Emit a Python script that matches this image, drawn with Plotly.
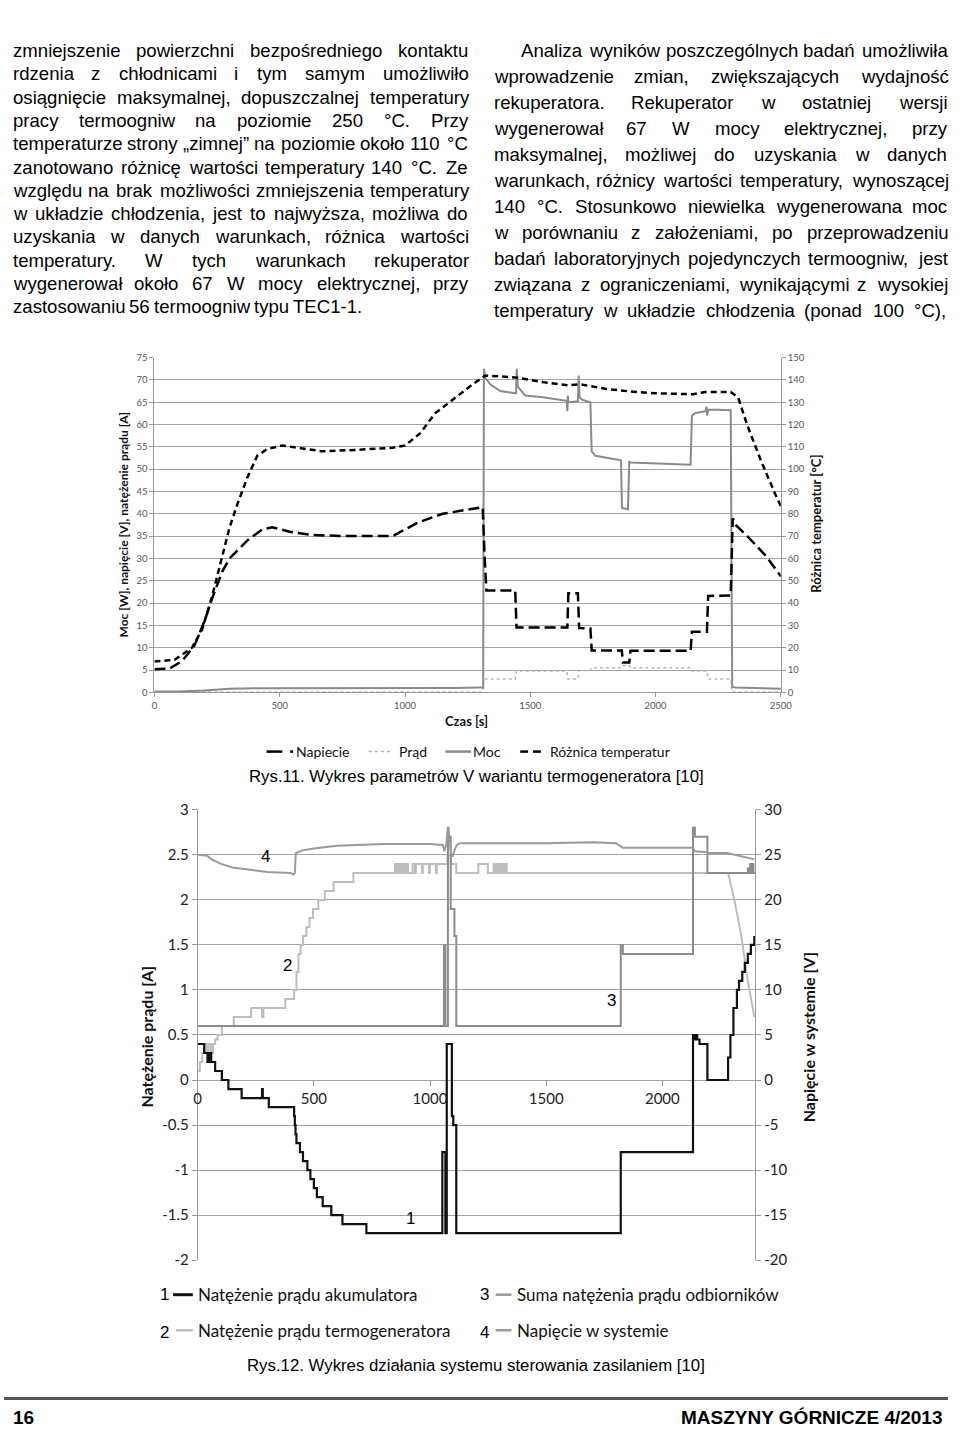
import plotly.graph_objects as go

W, H = 960, 1436


def px(x):
    return x / W


def py(y):
    return 1 - y / H


# ---------------- Chart 1 (Rys.11) data ----------------
c1_napiecie_t = [0, 60, 110, 160, 200, 230, 270, 300, 370, 430, 470, 540, 620, 750, 950, 1050, 1150, 1250,
                 1310, 1318, 1322, 1325, 1440, 1445, 1648, 1652, 1690, 1695, 1740, 1745, 1865, 1870, 1895,
                 1900, 2140, 2145, 2205, 2210, 2300, 2308, 2320, 2366, 2440, 2500]
c1_napiecie_v = [5.2, 5.3, 7.0, 10.5, 16, 21, 27, 30, 34, 36.5, 37, 36, 35.3, 35, 35, 38, 40, 41,
                 41.5, 30, 25, 22.8, 22.8, 14.5, 14.5, 22.2, 22.2, 14.4, 14.3, 9.4, 9.4, 6.7, 6.7,
                 9.3, 9.3, 13.6, 13.6, 21.6, 21.7, 39, 37.5, 35, 30.6, 26]

c1_prad_t = [0, 1310, 1315, 1440, 1445, 1645, 1650, 1690, 1695, 1740, 1745, 1865, 1870, 1895, 1900,
             2140, 2145, 2205, 2210, 2300, 2305, 2500]
c1_prad_v = [0.1, 0.1, 3.0, 3.0, 4.8, 4.8, 3.0, 3.0, 4.9, 4.9, 5.5, 5.5, 6.0, 6.0, 5.5,
             5.5, 4.8, 4.8, 3.0, 3.0, 0.1, 0.1]

c1_moc_t = [0, 100, 200, 300, 400, 700, 1000, 1200, 1300, 1312, 1315, 1320, 1340, 1380, 1440, 1443, 1446,
            1450, 1480, 1550, 1645, 1648, 1650, 1652, 1655, 1690, 1693, 1697, 1710, 1740, 1745, 1760,
            1862, 1866, 1890, 1895, 1900, 2000, 2140, 2145, 2160, 2200, 2203, 2206, 2210, 2250, 2300,
            2306, 2320, 2500]
c1_moc_v = [0.2, 0.2, 0.4, 0.8, 0.9, 0.9, 0.9, 1.0, 1.1, 1.1, 72.5, 70.5, 69, 67.5, 67, 67, 72.5,
            68.5, 66.5, 66.1, 65.3, 63, 66.5, 65, 65, 65.2, 71, 66, 65.5, 65, 54, 53,
            52, 41.3, 41, 51.6, 51.5, 51.3, 51, 62, 62.6, 63, 64, 62, 63.3, 63.3, 63.2,
            1.2, 1.1, 0.8]

c1_temp_t = [0, 80, 150, 190, 230, 270, 300, 330, 370, 410, 450, 510, 600, 670, 800, 950, 1000, 1060,
             1120, 1200, 1270, 1320, 1450, 1550, 1650, 1700, 1800, 1900, 2000, 2150, 2200, 2300, 2330,
             2365, 2420, 2477, 2500]
c1_temp_v = [13.8, 14.6, 20, 28, 43, 60, 74, 84, 96, 106, 109, 110.6, 109, 108, 108.6, 109.6, 110.6, 116,
             125, 132, 138, 142, 141, 139, 137.6, 138, 136, 134.8, 134, 133.6, 134.6, 134.6, 132,
             120, 104, 89, 83.4]

c1_xticks = [0, 500, 1000, 1500, 2000, 2500]
c1_yticks_left = list(range(0, 80, 5))
c1_yticks_right = list(range(0, 160, 10))

# ---------------- Chart 2 (Rys.12) data ----------------
# 1 - battery current [A] (step)
s1_t = [0, 28, 42, 46, 50, 54, 58, 62, 75, 104, 132, 189, 277, 280, 306, 415, 418, 421, 425, 440, 453,
        472, 485, 500, 513, 538, 575, 623, 726, 1053, 1066, 1072, 1094, 1100, 1113, 1821, 2132, 2140,
        2145, 2150, 2160, 2194, 2283, 2293, 2306, 2321, 2330, 2344, 2355, 2368, 2381, 2396]
s1_v = [0.4, 0.3, 0.2, 0.3, 0.2, 0.3, 0.2, 0.2, 0.1, 0.0, -0.1, -0.2, -0.1, -0.2, -0.3, -0.4, -0.5,
        -0.6, -0.7, -0.8, -0.9, -1.0, -1.1, -1.2, -1.3, -1.4, -1.5, -1.6, -1.7, -0.8, -1.7, 0.4,
        -0.4, -0.5, -1.7, -0.8, 0.5, 0.45, 0.5, 0.45, 0.4, 0.0, 0.25, 0.5, 0.8, 1.0, 1.1, 1.2, 1.3,
        1.4, 1.5, 1.6]

# 2 - thermogenerator current [A] (step part + final decline)
s2_t = [0, 9, 19, 28, 38, 47, 57, 66, 75, 85, 104, 155, 230, 277, 283, 377, 415, 425, 434, 443, 453,
        468, 481, 496, 519, 547, 585, 670,
        849, 853, 857, 861, 865, 869, 873, 877, 881, 885, 890, 895, 900, 905, 925, 935, 939, 965, 969,
        995, 999, 1025, 1029, 1060, 1075, 1090, 1113, 1208, 1249, 1274, 1280, 1286, 1292, 1298, 1304,
        1310, 1316, 1322, 1330, 2283]
s2_v = [0.1, 0.2, 0.3, 0.4, 0.3, 0.4, 0.3, 0.4, 0.45, 0.5, 0.6, 0.7, 0.8, 0.7, 0.8, 0.9, 1.0, 1.2, 1.4,
        1.5, 1.6, 1.7, 1.8, 1.9, 2.0, 2.1, 2.2, 2.3,
        2.4, 2.3, 2.4, 2.3, 2.4, 2.3, 2.4, 2.3, 2.4, 2.3, 2.4, 2.3, 2.4, 2.3, 2.4, 2.3, 2.4, 2.3, 2.4,
        2.3, 2.4, 2.3, 2.4, 2.4, 2.5, 2.4, 2.3, 2.4, 2.3, 2.4, 2.3, 2.4, 2.3, 2.4, 2.3,
        2.4, 2.3, 2.4, 2.3, 2.3]
s2_ramp_t = [2283, 2310, 2340, 2368, 2396]
s2_ramp_v = [2.3, 2.0, 1.6, 1.1, 0.7]

# 3 - total consumers current [A] (step)
s3_t = [0, 1060, 1066, 1077, 1080, 1089, 1105, 1113, 1821, 1830, 2132, 2140, 2194, 2368, 2372, 2378,
        2382, 2388, 2392, 2400]
s3_v = [0.6, 1.5, 0.6, 2.8, 2.7, 1.9, 1.6, 0.6, 1.5, 1.4, 2.8, 2.7, 2.3, 2.35, 2.3, 2.4, 2.3, 2.4,
        2.3, 2.3]

# 4 - system voltage [V]
s4_t = [0, 40, 60, 100, 150, 230, 300, 400, 412, 418, 422, 450, 500, 600, 700, 800, 1000, 1055, 1062,
        1070, 1077, 1083, 1090, 1097, 1105, 1115, 1130, 1500, 1700, 1800, 1830, 2130, 2140, 2194, 2200,
        2280, 2330, 2396]
s4_v = [25.0, 24.9, 24.5, 24.0, 23.6, 23.3, 23.1, 23.0, 22.8, 23.0, 25.2, 25.5, 25.7, 26.0, 26.1, 26.2,
        26.2, 26.1, 25.4, 26.2, 28.0, 27.0, 25.2, 24.8, 25.5, 26.1, 26.3, 26.3, 26.4, 26.3, 25.8, 25.8,
        25.4, 25.3, 25.2, 25.2, 24.9, 24.5]

c2_xticks = [0, 500, 1000, 1500, 2000]
c2_yticks_left = [-2, -1.5, -1, -0.5, 0, 0.5, 1, 1.5, 2, 2.5, 3]
c2_ylabels_left = ["-2", "-1.5", "-1", "-0.5", "0", "0.5", "1", "1.5", "2", "2.5", "3"]
c2_yticks_right = [-20, -15, -10, -5, 0, 5, 10, 15, 20, 25, 30]

# ---------------- Page text ----------------
left_lines = [
    "zmniejszenie powierzchni bezpośredniego kontaktu",
    "rdzenia z chłodnicami i tym samym umożliwiło",
    "osiągnięcie maksymalnej, dopuszczalnej temperatury",
    "pracy termoogniw na poziomie 250 °C. Przy",
    "temperaturze strony „zimnej” na poziomie około 110 °C",
    "zanotowano różnicę wartości temperatury 140 °C. Ze",
    "względu na brak możliwości zmniejszenia temperatury",
    "w układzie chłodzenia, jest to najwyższa, możliwa do",
    "uzyskania w danych warunkach, różnica wartości",
    "temperatury. W tych warunkach rekuperator",
    "wygenerował około 67 W mocy elektrycznej, przy",
    "zastosowaniu 56 termoogniw typu TEC1-1.",
]
right_lines = [
    "Analiza wyników poszczególnych badań umożliwiła",
    "wprowadzenie zmian, zwiększających wydajność",
    "rekuperatora. Rekuperator w ostatniej wersji",
    "wygenerował 67 W mocy elektrycznej, przy",
    "maksymalnej, możliwej do uzyskania w danych",
    "warunkach, różnicy wartości temperatury, wynoszącej",
    "140 °C. Stosunkowo niewielka wygenerowana moc",
    "w porównaniu z założeniami, po przeprowadzeniu",
    "badań laboratoryjnych pojedynczych termoogniw, jest",
    "związana z ograniczeniami, wynikającymi z wysokiej",
    "temperatury w układzie chłodzenia (ponad 100 °C),",
]

# Arial / Liberation Sans advance widths (1/1000 em)
AW = {' ': 278, ',': 278, '.': 278, '-': 333, '(': 333, ')': 333, '„': 333, '”': 333, '°': 400,
      'A': 667, 'C': 722, 'E': 667, 'P': 667, 'R': 722, 'S': 667, 'T': 611, 'W': 944, 'Z': 611,
      'a': 556, 'b': 556, 'c': 500, 'd': 556, 'e': 556, 'f': 278, 'g': 556, 'h': 556, 'i': 222,
      'j': 222, 'k': 500, 'l': 222, 'm': 833, 'n': 556, 'o': 556, 'p': 556, 'q': 556, 'r': 333,
      's': 500, 't': 278, 'u': 556, 'v': 500, 'w': 722, 'x': 500, 'y': 500, 'z': 500,
      'ą': 556, 'ć': 500, 'ę': 556, 'ł': 222, 'ń': 556, 'ó': 556, 'ś': 500, 'ź': 500, 'ż': 500}
for d in '0123456789':
    AW[d] = 556

TEXT_FS = 18.6
TEXT_FONT = dict(family="Liberation Sans, Arial, sans-serif", size=TEXT_FS, color="#000000")


def word_w(w):
    return sum(AW.get(c, 556) for c in w) * TEXT_FS / 1000.0


annotations = []


def add_line(text, x0, x1, y, justify=True):
    words = text.split(' ')
    widths = [word_w(w) for w in words]
    if justify and len(words) > 1:
        gap = (x1 - x0 - sum(widths)) / (len(words) - 1)
    else:
        gap = AW[' '] * TEXT_FS / 1000.0
    x = x0
    for w, ww in zip(words, widths):
        annotations.append(dict(text=w, x=px(x), y=py(y), xref='paper', yref='paper', xanchor='left',
                                yanchor='middle', showarrow=False, font=TEXT_FONT, borderpad=0))
        x += ww + gap


for i, ln in enumerate(left_lines):
    add_line(ln, 8, 470, 41 + i * 23.6, justify=(i < len(left_lines) - 1))
for i, ln in enumerate(right_lines):
    add_line(ln, 525 if i == 0 else 497, 957, 41 + i * 26.3, justify=True)

# ---------------- Figure ----------------
fig = go.Figure()

fig.add_trace(go.Scatter(x=c1_prad_t, y=c1_prad_v, xaxis='x', yaxis='y', mode='lines', name='Prąd',
                         line=dict(color='#b5b5b5', width=1.5, dash='dot')))
fig.add_trace(go.Scatter(x=c1_moc_t, y=c1_moc_v, xaxis='x', yaxis='y', mode='lines', name='Moc',
                         line=dict(color='#8a8a8a', width=2)))
fig.add_trace(go.Scatter(x=c1_napiecie_t, y=c1_napiecie_v, xaxis='x', yaxis='y', mode='lines',
                         name='Napiecie', line=dict(color='#000000', width=2.5, dash='11px,5px')))
fig.add_trace(go.Scatter(x=c1_temp_t, y=c1_temp_v, xaxis='x', yaxis='y2', mode='lines',
                         name='Różnica temperatur', line=dict(color='#000000', width=2.5, dash='6px,4px')))

fig.add_trace(go.Scatter(x=s4_t, y=s4_v, xaxis='x2', yaxis='y4', mode='lines', name='4',
                         line=dict(color='#9a9a9a', width=2)))
fig.add_trace(go.Scatter(x=s2_t, y=s2_v, xaxis='x2', yaxis='y3', mode='lines', name='2',
                         line=dict(color='#bdbdbd', width=2, shape='hv')))
fig.add_trace(go.Scatter(x=s2_ramp_t, y=s2_ramp_v, xaxis='x2', yaxis='y3', mode='lines', name='2b',
                         line=dict(color='#bdbdbd', width=2)))
fig.add_trace(go.Scatter(x=s3_t, y=s3_v, xaxis='x2', yaxis='y3', mode='lines', name='3',
                         line=dict(color='#8c8c8c', width=2, shape='hv')))
fig.add_trace(go.Scatter(x=s1_t, y=s1_v, xaxis='x2', yaxis='y3', mode='lines', name='1',
                         line=dict(color='#111111', width=2.2, shape='hv')))

small_tick = dict(family='Lato, sans-serif', size=9.5, color='#555555')
big_tick = dict(family='Lato, sans-serif', size=15, color='#222222')
GRID = '#a3a3a3'

fig.update_layout(
    width=W, height=H, margin=dict(l=0, r=0, t=0, b=0), showlegend=False,
    paper_bgcolor='white', plot_bgcolor='rgba(0,0,0,0)',
    xaxis=dict(domain=[px(153), px(790)], anchor='y', range=[0, 2500], tickvals=c1_xticks,
               ticktext=[str(v) for v in c1_xticks], showgrid=False, zeroline=False, showline=True,
               linecolor='#999999', ticks='outside', ticklen=4, tickcolor='#999999', tickfont=small_tick),
    yaxis=dict(domain=[py(691), py(352)], anchor='x', range=[0, 75], tickvals=c1_yticks_left,
               ticktext=[str(v) for v in c1_yticks_left], gridcolor=GRID, gridwidth=1, zeroline=False,
               showline=True, linecolor='#999999', ticks='outside', ticklen=4, tickcolor='#999999',
               tickfont=small_tick),
    yaxis2=dict(overlaying='y', side='right', anchor='x', range=[0, 150], tickvals=c1_yticks_right,
                ticktext=[str(v) for v in c1_yticks_right], showgrid=False, zeroline=False,
                showline=True, linecolor='#999999', ticks='outside', ticklen=4, tickcolor='#999999',
                tickfont=small_tick),
    xaxis2=dict(domain=[px(197), px(764)], anchor='free', position=py(1084), range=[0, 2400],
                tickvals=c2_xticks, ticktext=[str(v) for v in c2_xticks], showgrid=False, zeroline=False,
                showline=False, ticks='outside', ticklen=5, tickcolor='#999999', tickfont=big_tick),
    yaxis3=dict(domain=[py(1266), py(810)], anchor='x2', range=[-2, 3], tickvals=c2_yticks_left,
                ticktext=c2_ylabels_left, gridcolor=GRID, gridwidth=1, zeroline=False, showline=True,
                linecolor='#999999', ticks='outside', ticklen=5, tickcolor='#999999', tickfont=big_tick),
    yaxis4=dict(overlaying='y3', side='right', anchor='x2', range=[-20, 30], tickvals=c2_yticks_right,
                ticktext=[str(v) for v in c2_yticks_right], showgrid=False, zeroline=False, showline=True,
                linecolor='#999999', ticks='outside', ticklen=5, tickcolor='#999999', tickfont=big_tick),
)

LAT = 'Lato, sans-serif'
ARIAL = 'Liberation Sans, Arial, sans-serif'


def ann(text, x, y, size, family=LAT, bold=False, angle=0, xanchor='center', color='#111111'):
    t = f'<b>{text}</b>' if bold else text
    annotations.append(dict(text=t, x=px(x), y=py(y), xref='paper', yref='paper', xanchor=xanchor,
                            yanchor='middle', showarrow=False, textangle=angle, borderpad=0,
                            font=dict(family=family, size=size, color=color)))


# Chart 1 titles, legend, caption
ann('Moc [W], napięcie [V], natężenie prądu [A]', 122, 521, 12, bold=True, angle=-90)
ann('Różnica temperatur [°C]', 826, 520, 13, bold=True, angle=-90)
ann('Czas [s]', 470, 720, 13, bold=True)
ann('Napiecie', 296, 751, 14, xanchor='left')
ann('Prąd', 401, 751, 14, xanchor='left')
ann('Moc', 476, 751, 14, xanchor='left')
ann('Różnica temperatur', 554, 751, 14, xanchor='left')
ann('Rys.11. Wykres parametrów V wariantu termogeneratora [10]', 480, 776, 16.8, family=ARIAL,
    color='#000000')

# Chart 2 titles, series numbers, legend, caption
ann('Natężenie prądu [A]', 145, 1040, 16, bold=True, angle=-90)
ann('Napięcie w systemie [V]', 819, 1040, 16, bold=True, angle=-90)
ann('4', 266, 857, 17, family=ARIAL, color='#000000')
ann('2', 288, 968, 17, family=ARIAL, color='#000000')
ann('3', 618, 1003, 17, family=ARIAL, color='#000000')
ann('1', 413, 1224, 17, family=ARIAL, color='#000000')
ann('1', 163, 1301, 17, family=ARIAL, color='#000000')
ann('3', 489, 1301, 17, family=ARIAL, color='#000000')
ann('2', 163, 1339, 17, family=ARIAL, color='#000000')
ann('4', 489, 1339, 17, family=ARIAL, color='#000000')
ann('Natężenie prądu akumulatora', 196, 1301, 17, xanchor='left')
ann('Suma natężenia prądu odbiorników', 521, 1301, 17, xanchor='left')
ann('Natężenie prądu termogeneratora', 196, 1337, 17, xanchor='left')
ann('Napięcie w systemie', 521, 1337, 17, xanchor='left')
ann('Rys.12. Wykres działania systemu sterowania zasilaniem [10]', 480, 1373, 16.8, family=ARIAL,
    color='#000000')

# Footer
ann('16', 8, 1425, 19, family=ARIAL, bold=True, xanchor='left', color='#000000')
ann('MASZYNY GÓRNICZE 4/2013', 956, 1425, 19, family=ARIAL, bold=True, xanchor='right', color='#000000')


def seg(x0, x1, y, color, width, dash='solid'):
    return dict(type='line', xref='paper', yref='paper', x0=px(x0), x1=px(x1), y0=py(y), y1=py(y),
                line=dict(color=color, width=width, dash=dash))


shapes = [
    seg(267, 283, 751, '#000000', 2.5), seg(291, 294, 751, '#000000', 2.5),
    seg(371, 395, 751, '#b0b0b0', 1.5, 'dot'),
    seg(449, 475, 751, '#8a8a8a', 2.5),
    seg(525, 533, 751, '#000000', 2.5), seg(538, 546, 751, '#000000', 2.5),
    seg(172, 192, 1301, '#111111', 3),
    seg(500, 516, 1301, '#999999', 2.5),
    seg(175, 192, 1337, '#c0c0c0', 2.5),
    seg(500, 516, 1337, '#999999', 2.5),
    seg(0, 960, 1406, '#555555', 3),
]

fig.update_layout(annotations=annotations, shapes=shapes)
fig.write_html("out.html")
